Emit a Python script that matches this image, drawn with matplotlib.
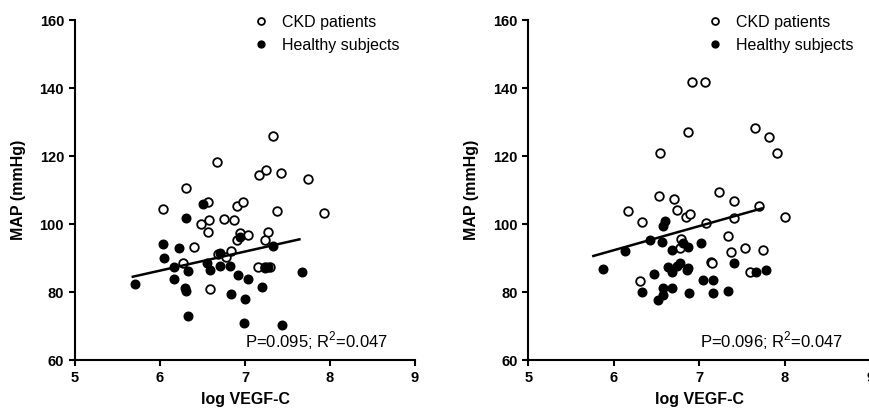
import numpy as np
import matplotlib
matplotlib.use('Agg')
import matplotlib.pyplot as plt

plt.rcParams['font.family'] = ['Liberation Sans', 'DejaVu Sans']
plt.rcParams['mathtext.fontset'] = 'custom'
plt.rcParams['mathtext.rm'] = 'Liberation Sans'

# --- left panel: log VEGF-C vs MAP ---
ckd_x_a = [6.03, 6.31, 6.27, 6.40, 6.48, 6.56, 6.58, 6.56, 6.67, 6.59, 6.68,
           6.75, 6.78, 6.84, 6.87, 6.90, 6.90, 6.94, 6.98, 7.03, 7.17, 7.25,
           7.33, 7.42, 7.38, 7.27, 7.24, 7.15, 7.24, 7.29, 7.74, 7.93]
ckd_y_a = [104.3, 110.6, 88.6, 93.2, 100.1, 106.6, 101.1, 97.6, 118.1, 80.8, 91.2,
           101.4, 90.2, 92.1, 101.2, 105.3, 95.3, 97.3, 106.6, 96.8, 114.4, 115.9,
           126.0, 115.1, 103.9, 97.6, 95.3, 87.5, 87.4, 87.4, 113.1, 103.3]
hs_x_a = [5.71, 6.03, 6.05, 6.17, 6.17, 6.22, 6.30, 6.29, 6.31, 6.33, 6.33,
          6.51, 6.55, 6.59, 6.71, 6.71, 6.82, 6.83, 6.92, 6.94, 7.00, 6.99,
          7.04, 7.20, 7.24, 7.27, 7.33, 7.43, 7.67]
hs_y_a = [82.4, 94.0, 89.9, 87.4, 83.7, 92.8, 101.9, 81.3, 80.2, 86.2, 72.9,
          105.8, 88.4, 86.5, 87.7, 91.4, 87.7, 79.3, 85.0, 96.3, 77.8, 71.0,
          83.8, 81.6, 87.0, 87.5, 93.6, 70.3, 86.0]
fit_a = (5.61, 84.5, 5.68, 7.64)   # slope, value at x0, x0, x1
note_a = 'P=0.095; R$^2$=0.047'

# --- right panel ---
ckd_x_b = [6.16, 6.33, 6.31, 6.53, 6.54, 6.70, 6.74, 6.78, 6.77, 6.84, 6.89,
           6.87, 6.91, 7.06, 7.08, 7.14, 7.15, 7.23, 7.34, 7.37, 7.40, 7.41,
           7.53, 7.59, 7.65, 7.70, 7.74, 7.82, 7.91, 8.00]
ckd_y_b = [103.8, 100.6, 83.2, 108.3, 120.8, 107.4, 104.1, 95.6, 92.8, 102.0, 102.9,
           127.1, 141.7, 141.7, 100.2, 88.9, 88.4, 109.3, 96.5, 91.9, 106.7, 101.9,
           92.9, 86.0, 128.2, 105.4, 92.3, 125.7, 121.0, 102.1]
hs_x_b = [5.87, 6.13, 6.33, 6.42, 6.47, 6.52, 6.56, 6.57, 6.60, 6.58, 6.57,
          6.63, 6.68, 6.68, 6.68, 6.74, 6.77, 6.81, 6.87, 6.85, 6.87, 6.88,
          7.02, 7.04, 7.16, 7.16, 7.34, 7.41, 7.66, 7.78]
hs_y_b = [86.7, 92.2, 79.9, 95.2, 85.3, 77.6, 94.8, 99.5, 101.0, 81.1, 79.1,
          87.4, 85.9, 92.4, 81.1, 87.7, 88.4, 94.5, 93.3, 86.5, 87.0, 79.6,
          94.5, 83.5, 83.5, 79.6, 80.3, 88.4, 85.9, 86.5]
fit_b = (7.1, 90.6, 5.76, 7.73)
note_b = 'P=0.096; R$^2$=0.047'

fig = plt.figure(figsize=(8.69, 4.13), dpi=100)
ax1 = fig.add_axes([0.0863, 0.1283, 0.3913, 0.8232])
ax2 = fig.add_axes([0.608, 0.1283, 0.3936, 0.8232])

panels = [(ax1, ckd_x_a, ckd_y_a, hs_x_a, hs_y_a, fit_a, note_a),
          (ax2, ckd_x_b, ckd_y_b, hs_x_b, hs_y_b, fit_b, note_b)]

for ax, cx, cy, hx, hy, fit, note in panels:
    ax.plot(cx, cy, 'o', ms=6.2, mfc='white', mec='black', mew=1.3,
            ls='none', label='CKD patients', clip_on=False)
    ax.plot(hx, hy, 'o', ms=6.2, mfc='black', mec='black', mew=1.0,
            ls='none', label='Healthy subjects', clip_on=False)

    slope, y0, x0, x1 = fit
    lx = np.array([x0, x1])
    ax.plot(lx, y0 + slope * (lx - x0), color='black', lw=1.8)

    ax.set_xlim(5, 9)
    ax.set_ylim(60, 160)
    ax.set_xticks([5, 6, 7, 8, 9])
    ax.set_yticks([60, 80, 100, 120, 140, 160])
    for s in ['top', 'right']:
        ax.spines[s].set_visible(False)
    for s in ['left', 'bottom']:
        ax.spines[s].set_linewidth(1.5)
    ax.tick_params(direction='out', length=4.3, width=1.5, labelsize=10.5, pad=3.6)
    for t in ax.get_xticklabels() + ax.get_yticklabels():
        t.set_fontweight('bold')

    ax.set_xlabel('log VEGF-C', fontsize=11.5, fontweight='bold', labelpad=5)
    ax.set_ylabel('MAP (mmHg)', fontsize=11.5, fontweight='bold', labelpad=10)

    ax.text(0.92, 0.025, note, transform=ax.transAxes, ha='right', va='bottom',
            fontsize=12)

    ax.legend(loc='upper left', bbox_to_anchor=(0.505, 1.035), frameon=False,
              fontsize=11.5, handletextpad=0.8, labelspacing=0.5,
              handlelength=1.0, borderaxespad=0, markerscale=0.8)

fig.savefig('out.png', dpi=100)
